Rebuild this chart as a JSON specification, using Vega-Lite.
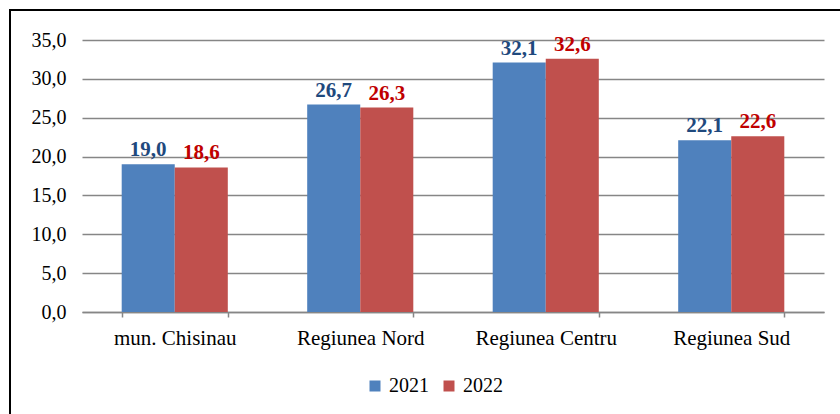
{
  "$schema": "https://vega.github.io/schema/vega-lite/v6.json",
  "width": 840,
  "height": 414,
  "autosize": {"type": "none"},
  "padding": {"left": 10, "top": 10, "right": 0, "bottom": 0},
  "background": "white",
  "config": {
    "view": {"stroke": "black", "strokeWidth": 2},
    "locale": {"number": {"decimal": ",", "thousands": ".", "grouping": [3], "currency": ["", ""]}},
    "font": "Liberation Serif"
  },
  "data": {
    "values": [
      {"region": "mun. Chisinau", "year": "2021", "value": 19.0},
      {"region": "mun. Chisinau", "year": "2022", "value": 18.6},
      {"region": "Regiunea Nord", "year": "2021", "value": 26.7},
      {"region": "Regiunea Nord", "year": "2022", "value": 26.3},
      {"region": "Regiunea Centru", "year": "2021", "value": 32.1},
      {"region": "Regiunea Centru", "year": "2022", "value": 32.6},
      {"region": "Regiunea Sud", "year": "2021", "value": 22.1},
      {"region": "Regiunea Sud", "year": "2022", "value": 22.6}
    ]
  },
  "encoding": {
    "x": {
      "field": "region",
      "type": "nominal",
      "sort": ["mun. Chisinau", "Regiunea Nord", "Regiunea Centru", "Regiunea Sud"],
      "scale": {"range": [72, 814], "paddingInner": 0.428, "paddingOuter": 0.214},
      "axis": {
        "title": null,
        "orient": "bottom",
        "offset": -112,
        "labelAngle": 0,
        "labelFont": "Liberation Serif",
        "labelFontSize": 21,
        "labelColor": "black",
        "labelPadding": 10,
        "domainColor": "#868686",
        "domainWidth": 1.5,
        "tickColor": "#868686",
        "tickWidth": 1.5,
        "tickSize": 5,
        "tickBand": "extent",
        "grid": false
      }
    },
    "xOffset": {"field": "year", "type": "nominal", "scale": {"paddingInner": 0, "paddingOuter": 0}},
    "y": {
      "field": "value",
      "type": "quantitative",
      "scale": {"domain": [0, 35], "range": [302, 30], "nice": false, "zero": true},
      "axis": {
        "title": null,
        "orient": "left",
        "offset": -72,
        "values": [0, 5, 10, 15, 20, 25, 30, 35],
        "format": ".1f",
        "domain": false,
        "ticks": false,
        "labelPadding": 16,
        "labelFont": "Liberation Serif",
        "labelFontSize": 20,
        "labelColor": "black",
        "grid": true,
        "gridColor": "#868686",
        "gridWidth": 1.5
      }
    }
  },
  "layer": [
    {
      "mark": {"type": "bar"},
      "encoding": {
        "color": {
          "field": "year",
          "type": "nominal",
          "scale": {"domain": ["2021", "2022"], "range": ["#4F81BD", "#C0504D"]},
          "legend": {
            "orient": "none",
            "legendX": 355,
            "legendY": 366,
            "direction": "horizontal",
            "title": null,
            "symbolType": "square",
            "symbolSize": 121,
            "symbolStrokeWidth": 0,
            "labelFont": "Liberation Serif",
            "labelFontSize": 20,
            "labelColor": "black",
            "labelOffset": 4,
            "columnPadding": 10,
            "padding": 0
          }
        }
      }
    },
    {
      "mark": {"type": "text", "baseline": "alphabetic", "dy": -8, "fontWeight": "bold", "fontSize": 21, "font": "Liberation Serif"},
      "encoding": {
        "text": {"field": "value", "type": "quantitative", "format": ".1f"},
        "color": {"condition": {"test": "datum.year === '2021'", "value": "#1F497D"}, "value": "#C00000"}
      }
    }
  ]
}
